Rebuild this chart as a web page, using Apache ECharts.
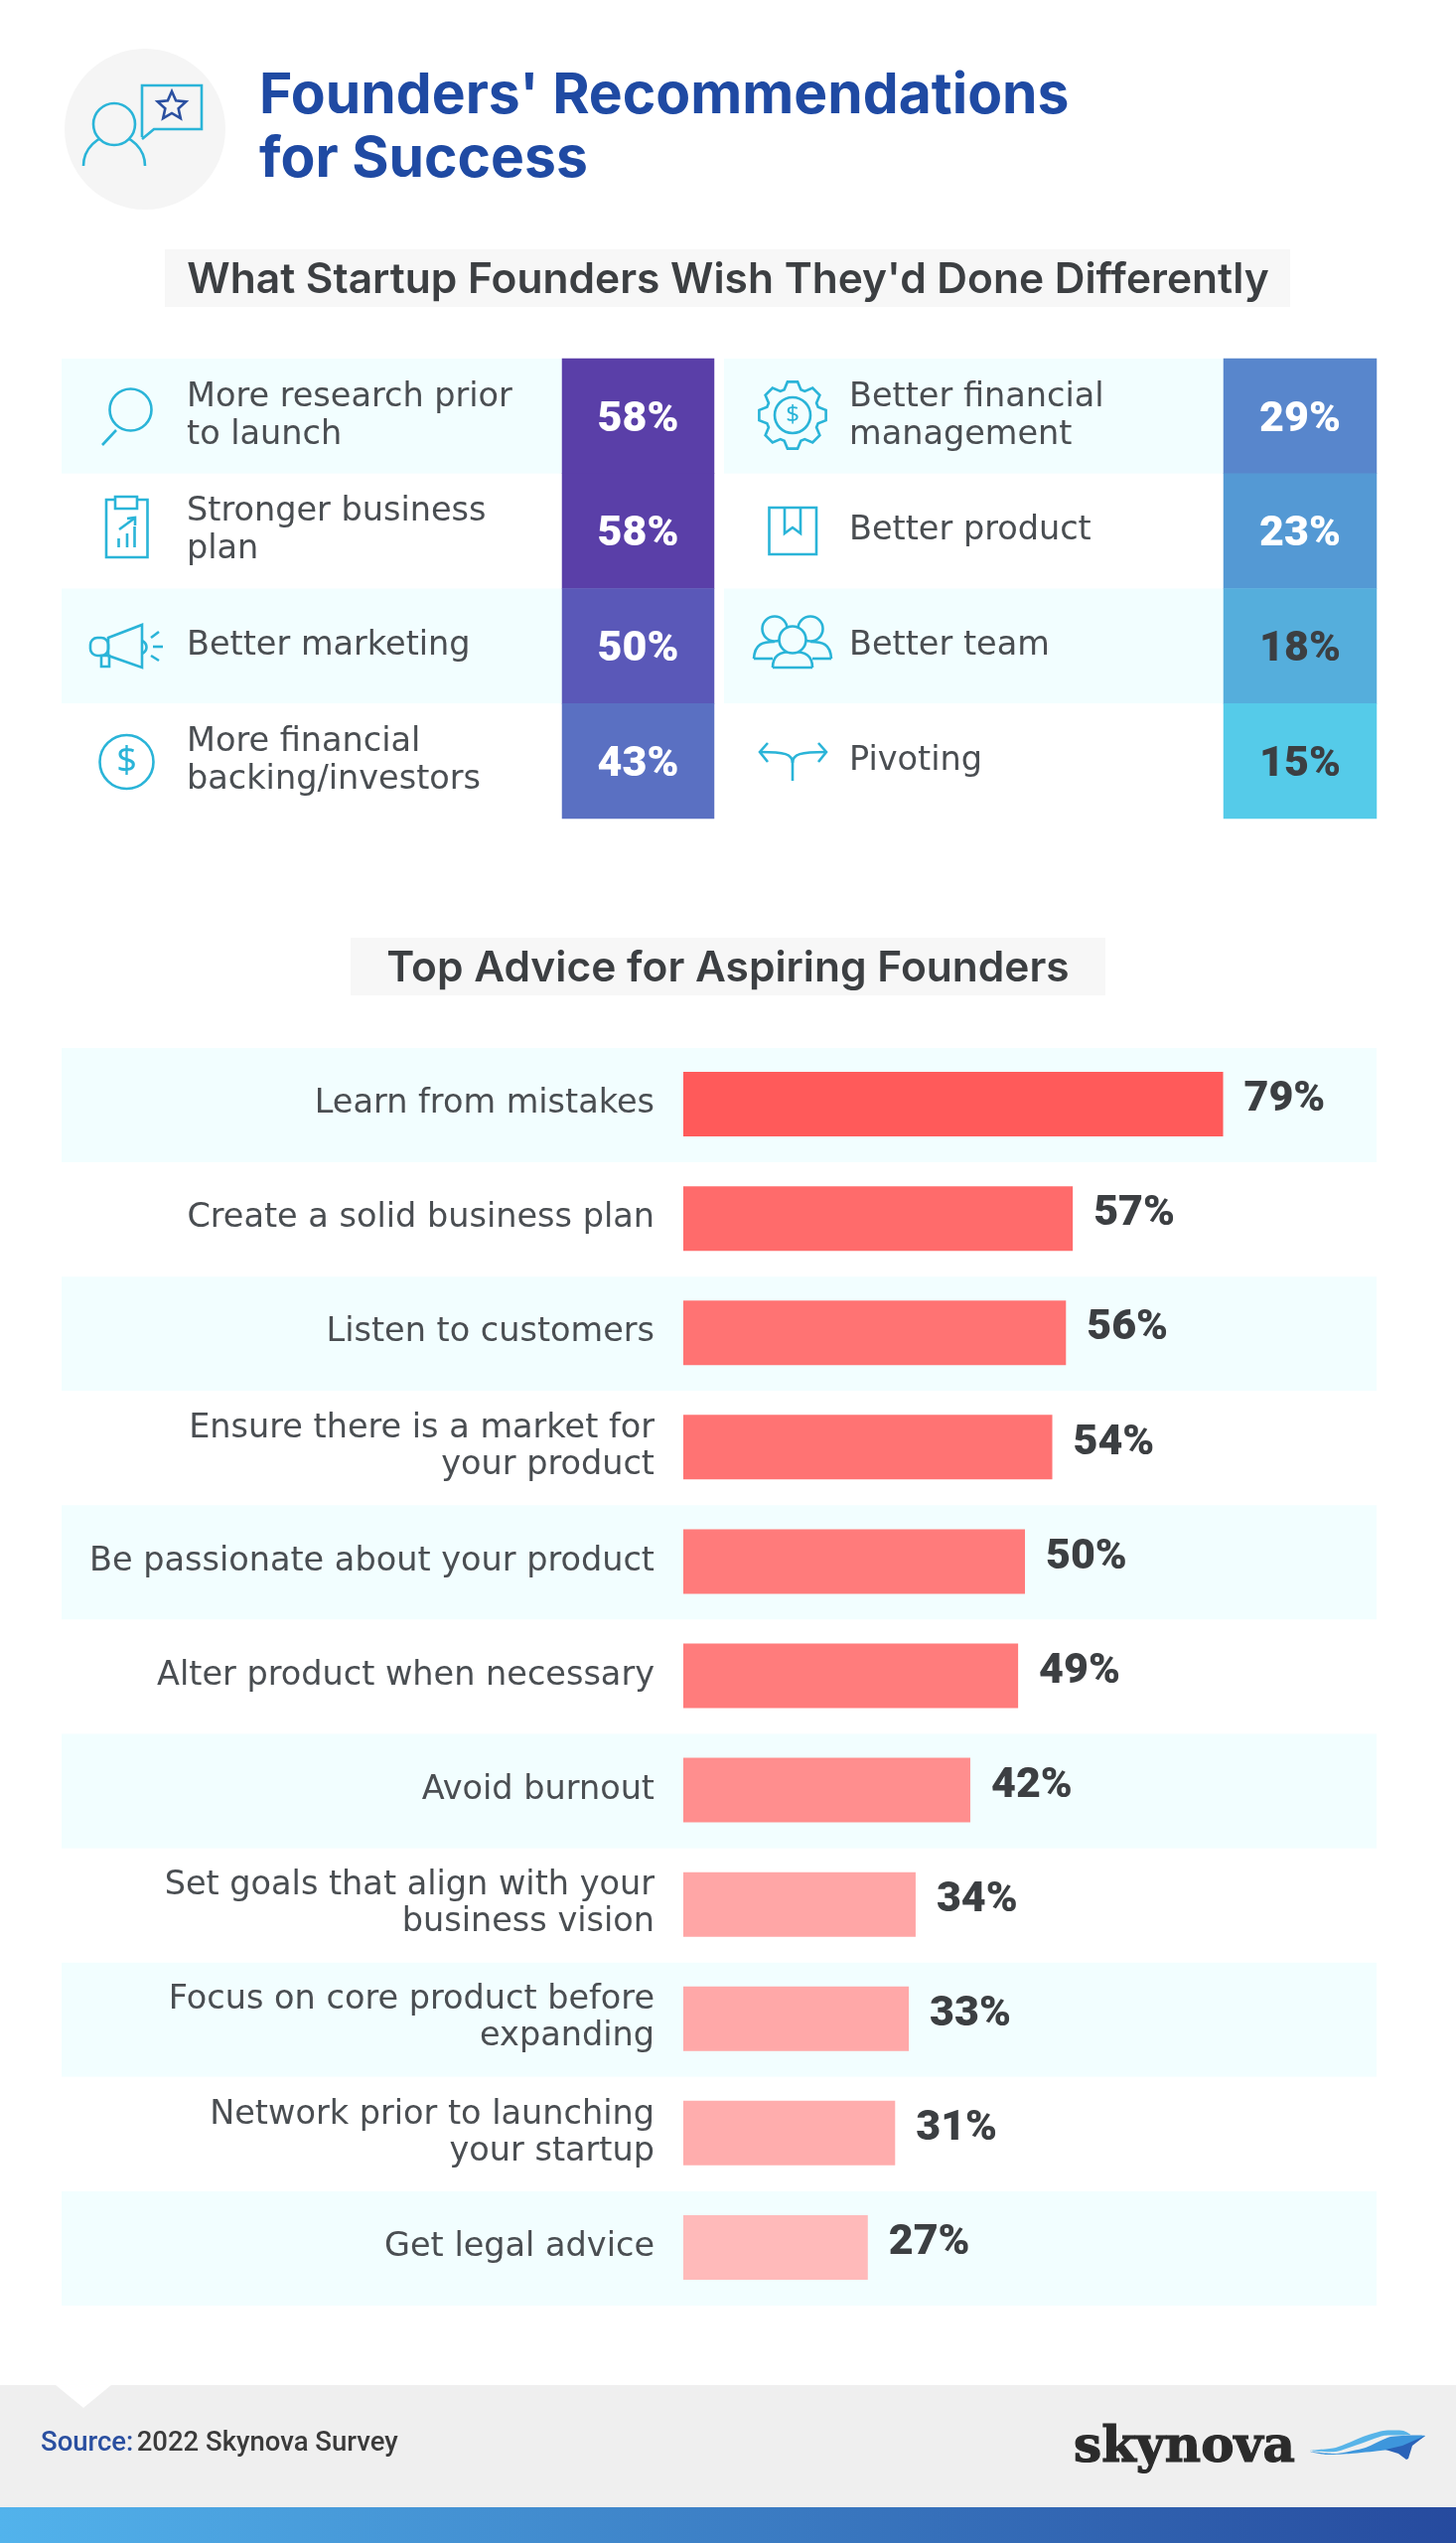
<!DOCTYPE html>
<html>
<head>
<meta charset="utf-8">
<title>Founders' Recommendations for Success</title>
<script src="https://cdn.jsdelivr.net/npm/echarts@6/dist/echarts.min.js"></script>
<style>
html, body { margin: 0; padding: 0; background: #fff; }
#main { width: 1466px; height: 2560px; }
</style>
</head>
<body>
<div id="main"></div>
<script>
// 数据
var wishLeftNames = ['More research prior\nto launch', 'Stronger business\nplan', 'Better marketing', 'More financial\nbacking/investors'];
var wishLeftValues = [58, 58, 50, 43];
var wishRightNames = ['Better financial\nmanagement', 'Better product', 'Better team', 'Pivoting'];
var wishRightValues = [29, 23, 18, 15];
var adviceNames = [
	'Learn from mistakes', 'Create a solid business plan', 'Listen to customers',
	'Ensure there is a market for\nyour product', 'Be passionate about your product',
	'Alter product when necessary', 'Avoid burnout', 'Set goals that align with your\nbusiness vision',
	'Focus on core product before\nexpanding', 'Network prior to launching\nyour startup', 'Get legal advice'
];
var adviceValues = [79, 57, 56, 54, 50, 49, 42, 34, 33, 31, 27];

// 颜色
var heatColors = { 58: '#5a3fa8', 50: '#5a58b8', 43: '#5a70c2', 29: '#5886cc', 23: '#5499d4', 18: '#55aedc', 15: '#55cbe9' };
var adviceColors = ['#ff5a5a', '#ff6b6b', '#ff7373', '#ff7373', '#ff7b7b', '#ff7c7c', '#ff8e8e', '#ffa6a6', '#ffa8a8', '#ffadad', '#ffbaba'];
var BAND = '#f2feff', DARK = '#3c3f42', TEXT = '#4a4e52', BLUE = '#1f4aa3', CYAN = '#2ab4d8';
var SANS = '"DejaVu Sans"', HEAD = 'Inter', HEAVY = 'Roboto';

var chart = echarts.init(document.getElementById('main'), null, { renderer: 'canvas' });

var iconStyle = { stroke: CYAN, lineWidth: 2.6, fill: 'none' };
function ln(x1, y1, x2, y2) { return { type: 'line', z: 10, shape: { x1: x1, y1: y1, x2: x2, y2: y2 }, style: iconStyle }; }
function pl(points) { return { type: 'polyline', z: 10, shape: { points: points }, style: iconStyle }; }
function cv(x1, y1, c1x, c1y, c2x, c2y, x2, y2) {
	return { type: 'bezierCurve', z: 10, shape: { x1: x1, y1: y1, cpx1: c1x, cpy1: c1y, cpx2: c2x, cpy2: c2y, x2: x2, y2: y2 }, style: iconStyle };
}
function cc(x, y, r, fill) {
	return { type: 'circle', z: 10, shape: { cx: x, cy: y, r: r }, style: { stroke: CYAN, lineWidth: 2.6, fill: fill || 'none' } };
}
function rc(x, y, w, h, fill, r) {
	return { type: 'rect', z: 10, shape: { x: x, y: y, width: w, height: h, r: r || 0 }, style: { stroke: CYAN, lineWidth: 2.6, fill: fill || 'none' } };
}
function dollar(x, y, size) {
	return { type: 'text', z: 10, style: { x: x, y: y, text: '$', fill: CYAN, font: size + 'px "Noto Sans"', textAlign: 'center', textVerticalAlign: 'middle' } };
}
function box(x, y, w, h, fill) {
	return { type: 'rect', z: 1, shape: { x: x, y: y, width: w, height: h }, style: { fill: fill } };
}
function swoosh(points, color) {
	return { type: 'polygon', z: 10, shape: { points: points, smooth: 0.2 }, style: { fill: color } };
}
function starPoints(cx, cy, ro, ri) {
	var pts = [];
	for (var i = 0; i < 10; i++) {
		var r = i % 2 ? ri : ro, a = -Math.PI / 2 + i * Math.PI / 5;
		pts.push([cx + r * Math.cos(a), cy + r * Math.sin(a)]);
	}
	return pts;
}
function gearPoints(cx, cy, ro, ri, teeth) {
	var pts = [], step = Math.PI * 2 / teeth;
	for (var i = 0; i < teeth; i++) {
		var a = -Math.PI / 2 + i * step;
		[[-0.5, ri], [-0.24, ro], [0.24, ro], [0.5, ri]].forEach(function (p) {
			var t = a + p[0] * step * 0.8;
			pts.push([cx + p[1] * Math.cos(t), cy + p[1] * Math.sin(t)]);
		});
	}
	return pts;
}

var graphicEls = [
	// 页眉
	{ type: 'circle', z: 1, shape: { cx: 146, cy: 130, r: 81 }, style: { fill: '#f5f5f5' } },
	{ type: 'arc', z: 10, shape: { cx: 115, cy: 167, r: 31, startAngle: Math.PI, endAngle: Math.PI * 2 }, style: iconStyle },
	cc(115, 125, 21, '#f5f5f5'),
	pl([[143, 138], [143, 86], [203, 86], [203, 130], [155, 130], [143, 140]]),
	{ type: 'polygon', z: 10, shape: { points: starPoints(173, 107, 15, 7) }, style: { stroke: '#2a4fa0', lineWidth: 2.6, fill: 'none' } },
	box(166, 251, 1133, 58, '#f7f7f7'),
	box(353, 944, 760, 58, '#f7f7f7'),

	// 放大镜
	cc(131.5, 412.5, 21), ln(117, 433, 103, 448),
	// 剪贴板
	rc(107, 503, 41.5, 58), rc(116, 500, 22, 12, '#fff'),
	ln(119.5, 551, 119.5, 542), ln(128, 551, 128, 537), ln(135.5, 551, 135.5, 530),
	ln(120, 533, 135, 522), pl([[128, 522], [136, 521], [136, 529]]),
	// 喇叭
	{ type: 'polygon', z: 10, shape: { points: [[109, 642], [143, 629], [143, 672], [109, 660]] }, style: iconStyle },
	rc(91, 642, 18, 18, 'none', 7), rc(102, 660, 8, 11),
	cv(143, 645, 149, 648, 149, 655, 143, 658),
	ln(152, 642, 160, 636), ln(154, 651, 164, 651), ln(152, 660, 160, 665),
	// 美元
	cc(127.5, 767, 27), dollar(127.5, 767, 36),
	// 齿轮
	{ type: 'polygon', z: 10, shape: { points: gearPoints(798, 418, 34, 27, 8) }, style: iconStyle },
	cc(798, 418, 18), dollar(798, 418, 24),
	// 书
	rc(774.5, 511, 47.5, 47), pl([[790, 511], [790, 537], [798, 531], [806, 537], [806, 511]]),
	// 团队
	cv(759, 663, 760, 648, 768, 646, 780, 646), cv(837, 663, 836, 648, 828, 646, 816, 646),
	ln(759, 663, 778, 663), ln(818, 663, 837, 663),
	cc(780, 633, 12.5, BAND), cc(816, 633, 12.5, BAND),
	cv(778, 672, 778, 660, 785, 656, 798, 656), cv(818, 672, 818, 660, 811, 656, 798, 656), ln(778, 672, 818, 672),
	cc(798, 644, 13.5, BAND),
	// 转向
	ln(798, 786, 798, 768),
	cv(798, 768, 798, 759, 790, 757, 765, 757), cv(798, 768, 798, 759, 806, 757, 832, 757),
	pl([[773, 748], [765, 757], [773, 767]]), pl([[824, 748], [832, 757], [824, 767]]),

	// 页脚
	box(0, 2401, 1466, 123, '#efefef'),
	{ type: 'polygon', z: 2, shape: { points: [[56, 2401], [112, 2401], [84, 2424]] }, style: { fill: '#fff' } },
	{
		type: 'rect', z: 2, shape: { x: 0, y: 2524, width: 1466, height: 36 },
		style: { fill: new echarts.graphic.LinearGradient(0, 0, 1, 0, [{ offset: 0, color: '#52b3ec' }, { offset: 1, color: '#264a9e' }]) }
	},
	{
		type: 'text', z: 10,
		style: {
			x: 41, y: 2460, textVerticalAlign: 'middle', text: '{a|Source:} {b|2022 Skynova Survey}',
			rich: {
				a: { fontFamily: 'Roboto', fontSize: 27.5, fontWeight: 500, fill: '#2a4fa0' },
				b: { fontFamily: 'Roboto', fontSize: 27.5, fontWeight: 500, fill: '#3a3a3a' }
			}
		}
	},
	{ type: 'text', z: 10, style: { x: 1081, y: 2490, text: 'skynova', fill: '#2b2b2b', font: '900 50px "DejaVu Serif"', textVerticalAlign: 'bottom', stroke: '#2b2b2b', lineWidth: 1.2 } },
	swoosh([[1319, 2467], [1345, 2464], [1375, 2452], [1393, 2447], [1413, 2447], [1420, 2451], [1393, 2452], [1370, 2460], [1345, 2468]], '#58b4e8'),
	swoosh([[1319, 2468], [1345, 2470], [1375, 2464], [1400, 2453], [1435, 2452], [1410, 2464], [1390, 2467], [1360, 2470], [1335, 2471]], '#3d96dc'),
	{ type: 'polygon', z: 11, shape: { points: [[1435, 2452], [1412, 2462], [1395, 2466], [1408, 2470], [1416, 2476], [1418, 2475], [1422, 2462]] }, style: { fill: '#2a62b8' } }
];

function heatSeries(values, xi) {
	return {
		type: 'heatmap', xAxisIndex: xi, yAxisIndex: xi,
		data: values.map(function (v, i) {
			return { value: [0, i, v], label: { color: v < 20 ? DARK : '#fff' } };
		}),
		label: {
			show: true, fontFamily: HEAVY, fontWeight: 900, fontSize: 43, offset: [0, 4],
			formatter: function (p) { return p.value[2] + '%'; }
		},
		itemStyle: { borderWidth: 0 },
		emphasis: { disabled: true }
	};
}

// 一列的名称+色块: 名称和底色在一个 grid,色块在另一个
function rowAxis(names, idx, show) {
	return {
		type: 'category', gridIndex: idx, inverse: true, data: names, boundaryGap: true,
		axisLine: { show: false }, axisTick: { show: false },
		axisLabel: show ? { inside: true, margin: 126, color: TEXT, fontFamily: SANS, fontSize: 33.5, lineHeight: 38 } : { show: false },
		splitLine: { show: false },
		splitArea: show ? { show: true, areaStyle: { color: [BAND, '#fff'] } } : { show: false }
	};
}
function hiddenValue(idx) {
	return { type: 'value', gridIndex: idx, show: false, min: 0, max: 100, splitLine: { show: false } };
}

chart.setOption({
	animation: false,
	backgroundColor: '#fff',
	title: [
		{
			text: "Founders' Recommendations\nfor Success", left: 261, top: 65, padding: 0,
			textStyle: { fontFamily: HEAD, fontWeight: 700, fontSize: 57, lineHeight: 64, color: BLUE }
		},
		{
			text: "What Startup Founders Wish They'd Done Differently", left: 733, top: 258, padding: 0, textAlign: 'center',
			textStyle: { fontFamily: HEAD, fontWeight: 600, fontSize: 42.5, lineHeight: 48, color: DARK }
		},
		{
			text: 'Top Advice for Aspiring Founders', left: 733, top: 951, padding: 0, textAlign: 'center',
			textStyle: { fontFamily: HEAD, fontWeight: 600, fontSize: 42.5, lineHeight: 48, color: DARK }
		}
	],
	graphic: { elements: graphicEls },
	grid: [
		{ left: 566, width: 153, top: 361, height: 463 },
		{ left: 1232, width: 154, top: 361, height: 463 },
		{ left: 62, width: 504, top: 361, height: 463 },
		{ left: 729, width: 503, top: 361, height: 463 },
		{ left: 62, width: 1324, top: 1055, height: 1266 },
		{ left: 688, width: 688, top: 1054, height: 1266 }
	],
	xAxis: [
		{ type: 'category', gridIndex: 0, show: false, data: ['share'] },
		{ type: 'category', gridIndex: 1, show: false, data: ['share'] },
		hiddenValue(2), hiddenValue(3), hiddenValue(4), hiddenValue(5)
	],
	yAxis: [
		rowAxis(wishLeftNames, 0, false),
		rowAxis(wishRightNames, 1, false),
		rowAxis(wishLeftNames, 2, true),
		rowAxis(wishRightNames, 3, true),
		{
			type: 'category', gridIndex: 4, inverse: true, data: adviceNames, axisLine: { show: false }, axisTick: { show: false },
			axisLabel: { show: false }, splitArea: { show: true, areaStyle: { color: [BAND, '#fff'] } }
		},
		{
			type: 'category', gridIndex: 5, inverse: true, data: adviceNames, axisLine: { show: false }, axisTick: { show: false },
			axisLabel: { margin: 29, color: TEXT, fontFamily: SANS, fontSize: 33.5, lineHeight: 37, align: 'right' }
		}
	],
	visualMap: {
		show: false, type: 'piecewise', seriesIndex: [0, 1], dimension: 2,
		pieces: Object.keys(heatColors).map(function (k) { return { value: +k, color: heatColors[k] }; })
	},
	series: [
		heatSeries(wishLeftValues, 0),
		heatSeries(wishRightValues, 1),
		{
			type: 'bar', xAxisIndex: 5, yAxisIndex: 5, barWidth: 65,
			data: adviceValues.map(function (v, i) {
				return { value: v, itemStyle: { color: adviceColors[i] } };
			}),
			label: {
				show: true, position: 'right', distance: 21, offset: [0, -4], formatter: '{c}%',
				fontFamily: HEAVY, fontWeight: 900, fontSize: 43, color: DARK
			}
		}
	]
});
</script>
</body>
</html>
